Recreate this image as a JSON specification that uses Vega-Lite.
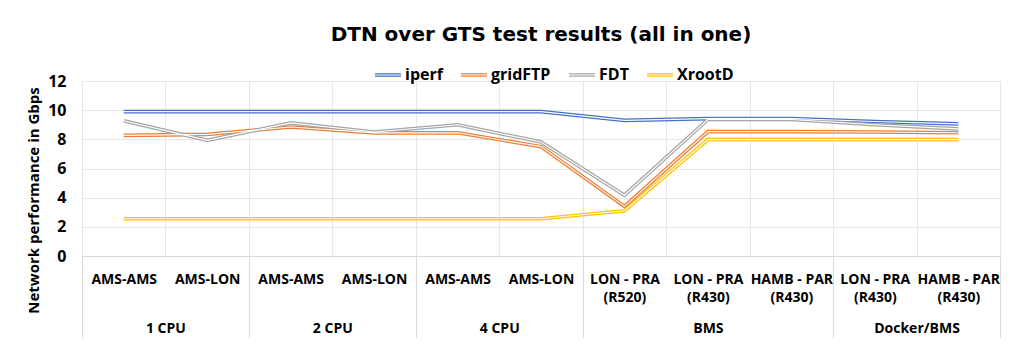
{
  "$schema": "https://vega.github.io/schema/vega-lite/v6.json",
  "width": 918,
  "height": 175,
  "autosize": {"type": "none"},
  "padding": {"left": 82, "top": 81, "right": 23, "bottom": 95},
  "background": "white",
  "config": {
    "view": {"stroke": null},
    "font": "Open Sans",
    "axis": {"labelColor": "#000", "titleColor": "#000"}
  },
  "title": {
    "text": "DTN over GTS test results (all in one)",
    "font": "DejaVu Sans",
    "fontSize": 20,
    "fontWeight": "bold",
    "color": "#000",
    "anchor": "middle",
    "frame": "group",
    "offset": 16
  },
  "data": {
    "values": [
      {"cat": "1 CPU|AMS-AMS", "tool": "iperf", "gbps": 9.9},
      {"cat": "1 CPU|AMS-LON", "tool": "iperf", "gbps": 9.9},
      {"cat": "2 CPU|AMS-AMS", "tool": "iperf", "gbps": 9.9},
      {"cat": "2 CPU|AMS-LON", "tool": "iperf", "gbps": 9.9},
      {"cat": "4 CPU|AMS-AMS", "tool": "iperf", "gbps": 9.9},
      {"cat": "4 CPU|AMS-LON", "tool": "iperf", "gbps": 9.9},
      {"cat": "BMS|LON - PRA|(R520)", "tool": "iperf", "gbps": 9.3},
      {"cat": "BMS|LON - PRA|(R430)", "tool": "iperf", "gbps": 9.42},
      {"cat": "BMS|HAMB - PAR|(R430)", "tool": "iperf", "gbps": 9.43},
      {"cat": "Docker/BMS|LON - PRA|(R430)", "tool": "iperf", "gbps": 9.22},
      {"cat": "Docker/BMS|HAMB - PAR|(R430)", "tool": "iperf", "gbps": 9.06},
      {"cat": "1 CPU|AMS-AMS", "tool": "gridFTP", "gbps": 8.27},
      {"cat": "1 CPU|AMS-LON", "tool": "gridFTP", "gbps": 8.34},
      {"cat": "2 CPU|AMS-AMS", "tool": "gridFTP", "gbps": 8.85},
      {"cat": "2 CPU|AMS-LON", "tool": "gridFTP", "gbps": 8.44},
      {"cat": "4 CPU|AMS-AMS", "tool": "gridFTP", "gbps": 8.45},
      {"cat": "4 CPU|AMS-LON", "tool": "gridFTP", "gbps": 7.5},
      {"cat": "BMS|LON - PRA|(R520)", "tool": "gridFTP", "gbps": 3.4},
      {"cat": "BMS|LON - PRA|(R430)", "tool": "gridFTP", "gbps": 8.53},
      {"cat": "BMS|HAMB - PAR|(R430)", "tool": "gridFTP", "gbps": 8.53},
      {"cat": "Docker/BMS|LON - PRA|(R430)", "tool": "gridFTP", "gbps": 8.5},
      {"cat": "Docker/BMS|HAMB - PAR|(R430)", "tool": "gridFTP", "gbps": 8.45},
      {"cat": "1 CPU|AMS-AMS", "tool": "FDT", "gbps": 9.28},
      {"cat": "1 CPU|AMS-LON", "tool": "FDT", "gbps": 7.93},
      {"cat": "2 CPU|AMS-AMS", "tool": "FDT", "gbps": 9.13},
      {"cat": "2 CPU|AMS-LON", "tool": "FDT", "gbps": 8.5},
      {"cat": "4 CPU|AMS-AMS", "tool": "FDT", "gbps": 9.0},
      {"cat": "4 CPU|AMS-LON", "tool": "FDT", "gbps": 7.82},
      {"cat": "BMS|LON - PRA|(R520)", "tool": "FDT", "gbps": 4.17},
      {"cat": "BMS|LON - PRA|(R430)", "tool": "FDT", "gbps": 9.36},
      {"cat": "BMS|HAMB - PAR|(R430)", "tool": "FDT", "gbps": 9.36},
      {"cat": "Docker/BMS|LON - PRA|(R430)", "tool": "FDT", "gbps": 9.0},
      {"cat": "Docker/BMS|HAMB - PAR|(R430)", "tool": "FDT", "gbps": 8.72},
      {"cat": "1 CPU|AMS-AMS", "tool": "XrootD", "gbps": 2.55},
      {"cat": "1 CPU|AMS-LON", "tool": "XrootD", "gbps": 2.55},
      {"cat": "2 CPU|AMS-AMS", "tool": "XrootD", "gbps": 2.55},
      {"cat": "2 CPU|AMS-LON", "tool": "XrootD", "gbps": 2.55},
      {"cat": "4 CPU|AMS-AMS", "tool": "XrootD", "gbps": 2.55},
      {"cat": "4 CPU|AMS-LON", "tool": "XrootD", "gbps": 2.55},
      {"cat": "BMS|LON - PRA|(R520)", "tool": "XrootD", "gbps": 3.1},
      {"cat": "BMS|LON - PRA|(R430)", "tool": "XrootD", "gbps": 7.98},
      {"cat": "BMS|HAMB - PAR|(R430)", "tool": "XrootD", "gbps": 7.98},
      {"cat": "Docker/BMS|LON - PRA|(R430)", "tool": "XrootD", "gbps": 7.98},
      {"cat": "Docker/BMS|HAMB - PAR|(R430)", "tool": "XrootD", "gbps": 7.98}
    ]
  },
  "encoding": {
    "y": {
      "field": "gbps",
      "type": "quantitative",
      "scale": {"domain": [0, 12]},
      "axis": {
        "values": [0, 2, 4, 6, 8, 10, 12],
        "title": "Network performance in Gbps",
        "domain": false,
        "ticks": false,
        "grid": true,
        "gridColor": "#e6e6e6",
        "labelFont": "Open Sans",
        "labelFontSize": 16,
        "labelFontWeight": "bold",
        "labelPadding": 16,
        "titleFont": "Open Sans",
        "titleFontSize": 15,
        "titleFontWeight": "bold",
        "titleAngle": 270,
        "titleAlign": "center",
        "titleBaseline": "middle",
        "titleX": -49,
        "titleY": 119
      }
    }
  },
  "layer": [
    {
      "mark": {"type": "line", "strokeWidth": 3.6},
      "encoding": {
        "x": {
          "field": "cat",
          "type": "nominal",
          "sort": null,
          "scale": {"type": "band", "paddingInner": 0, "paddingOuter": 0},
          "axis": {
            "orient": "bottom",
            "title": null,
            "grid": true,
            "gridColor": "#e6e6e6",
            "tickBand": "extent",
            "ticks": false,
            "domainColor": "#d9d9d9",
            "labelExpr": "slice(split(datum.value, '|'), 1)",
            "labelFont": "Open Sans",
            "labelFontSize": 14,
            "labelFontWeight": "bold",
            "labelPadding": 16,
            "labelLineHeight": 18,
            "labelAngle": 0,
            "labelBaseline": "top",
            "labelOverlap": false,
            "labelFlush": false,
            "labelBound": false,
            "labelLimit": 0
          }
        },
        "color": {
          "field": "tool",
          "type": "nominal",
          "scale": {
            "domain": ["iperf", "gridFTP", "FDT", "XrootD"],
            "range": ["#4472C4", "#ED7D31", "#A5A5A5", "#FFC000"]
          },
          "legend": {
            "title": null,
            "orient": "none",
            "direction": "horizontal",
            "legendX": 292,
            "legendY": -20,
            "padding": 0,
            "columnPadding": 15,
            "labelOffset": 3,
            "labelFont": "Open Sans",
            "labelFontSize": 16,
            "labelFontWeight": "bold",
            "labelColor": "#000",
            "symbolType": "M-1,-0.09H1M-1,0.09H1",
            "symbolSize": 676,
            "symbolStrokeWidth": 1.2
          }
        }
      }
    },
    {
      "mark": {"type": "line", "strokeWidth": 1.1, "color": "white"},
      "encoding": {
        "x": {
          "field": "cat",
          "type": "nominal",
          "sort": null,
          "scale": {"type": "band", "paddingInner": 0, "paddingOuter": 0},
          "axis": {
            "orient": "bottom",
            "title": null,
            "grid": false,
            "domain": false,
            "ticks": true,
            "tickBand": "extent",
            "tickSize": 82,
            "tickColor": "#d9d9d9",
            "tickOpacity": {
              "condition": {
                "test": "datum.extra || indexof(['1 CPU|AMS-LON','2 CPU|AMS-LON','4 CPU|AMS-LON','BMS|HAMB - PAR|(R430)','Docker/BMS|HAMB - PAR|(R430)'], datum.value) >= 0",
                "value": 1
              },
              "value": 0
            },
            "labelExpr": "indexof(['1 CPU|AMS-AMS','2 CPU|AMS-AMS','4 CPU|AMS-AMS','BMS|LON - PRA|(R430)','Docker/BMS|LON - PRA|(R430)'], datum.value) >= 0 ? split(datum.value, '|')[0] : ''",
            "labelOffset": {
              "condition": {"test": "datum.value === 'BMS|LON - PRA|(R430)'", "value": 0},
              "value": 41.7
            },
            "labelFont": "Open Sans",
            "labelFontSize": 14,
            "labelFontWeight": "bold",
            "labelPadding": -17,
            "labelAngle": 0,
            "labelBaseline": "top",
            "labelOverlap": false,
            "labelFlush": false,
            "labelBound": false,
            "labelLimit": 0
          }
        },
        "detail": {"field": "tool", "type": "nominal"}
      }
    }
  ],
  "resolve": {"axis": {"x": "independent"}}
}
